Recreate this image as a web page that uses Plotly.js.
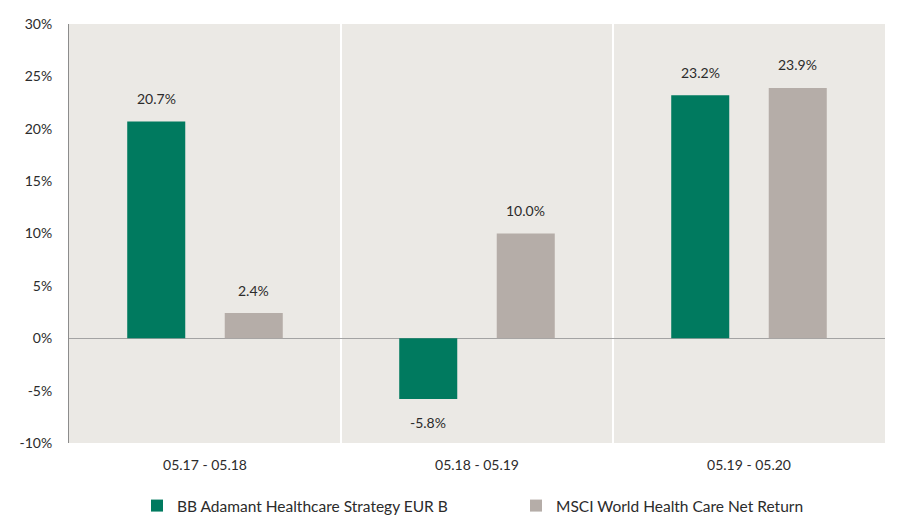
<!DOCTYPE html>
<html>
<head>
<meta charset="utf-8">
<script src="https://cdn.plot.ly/plotly-3.0.1.min.js"></script>
<style>html,body{margin:0;padding:0;background:#fff}#chart{width:902px;height:517px}</style>
</head>
<body>
<div id="chart"></div>
<script>
const categories = ["05.17 - 05.18", "05.18 - 05.19", "05.19 - 05.20"];
const seriesNames = ["BB Adamant Healthcare Strategy EUR B", "MSCI World Health Care Net Return"];
const fundValues = [20.7, -5.8, 23.2];
const indexValues = [2.4, 10.0, 23.9];
const yTickVals = [-10, -5, 0, 5, 10, 15, 20, 25, 30];
const yTickText = ["-10%", "-5%", "0%", "5%", "10%", "15%", "20%", "25%", "30%"];

const colors = ["#007a5f", "#b5ada8"];
const font = {family: "Lato, 'Open Sans', sans-serif", size: 14, color: "#2b2b2b"};
const legendFont = {family: "Lato, 'Open Sans', sans-serif", size: 15.5, color: "#2b2b2b"};

const traces = [fundValues, indexValues].map((vals, i) => ({
  type: "bar",
  name: seriesNames[i],
  x: categories,
  y: vals,
  marker: {color: colors[i]},
  offsetgroup: String(i),
  hoverinfo: "none"
}));

// value labels as annotations, offset from bar ends
const annotations = [];
[fundValues, indexValues].forEach((vals, i) => {
  vals.forEach((v, j) => {
    annotations.push({
      x: categories[j], y: v, xref: "x", yref: "y",
      text: v.toFixed(1) + "%",
      showarrow: false,
      xshift: (i === 0 ? -1 : 1) * 48.75,
      yshift: v >= 0 ? 23 : -23,
      font: font
    });
  });
});

const layout = {
  width: 902, height: 517,
  margin: {l: 69, r: 17, t: 24, b: 74, autoexpand: false},
  paper_bgcolor: "#ffffff",
  plot_bgcolor: "#ebe9e5",
  font: font,
  barmode: "group",
  bargap: 0.283,
  bargroupgap: 0.405,
  showlegend: true,
  legend: {
    orientation: "h",
    xref: "container", yref: "container",
    x: 137 / 902, xanchor: "left",
    y: 1 - 506 / 517, yanchor: "middle",
    font: legendFont, entrywidth: 334, entrywidthmode: "pixels", itemwidth: 30,
    bgcolor: "rgba(0,0,0,0)"
  },
  xaxis: {
    type: "category",
    tickson: "boundaries",
    showgrid: true, gridcolor: "#ffffff", gridwidth: 2,
    ticks: "", showline: false, zeroline: false,
    tickfont: font,
    ticklabelstandoff: 12
  },
  yaxis: {
    range: [-10, 30],
    tickvals: yTickVals, ticktext: yTickText,
    showgrid: false,
    zeroline: true, zerolinecolor: "#a3a3a3", zerolinewidth: 1.5,
    showline: true, linecolor: "#8c8c8c", linewidth: 1,
    ticks: "", tickfont: font,
    ticklabelstandoff: 13
  },
  annotations: annotations
};

Plotly.newPlot("chart", traces, layout, {displayModeBar: false, staticPlot: true});
</script>
</body>
</html>
